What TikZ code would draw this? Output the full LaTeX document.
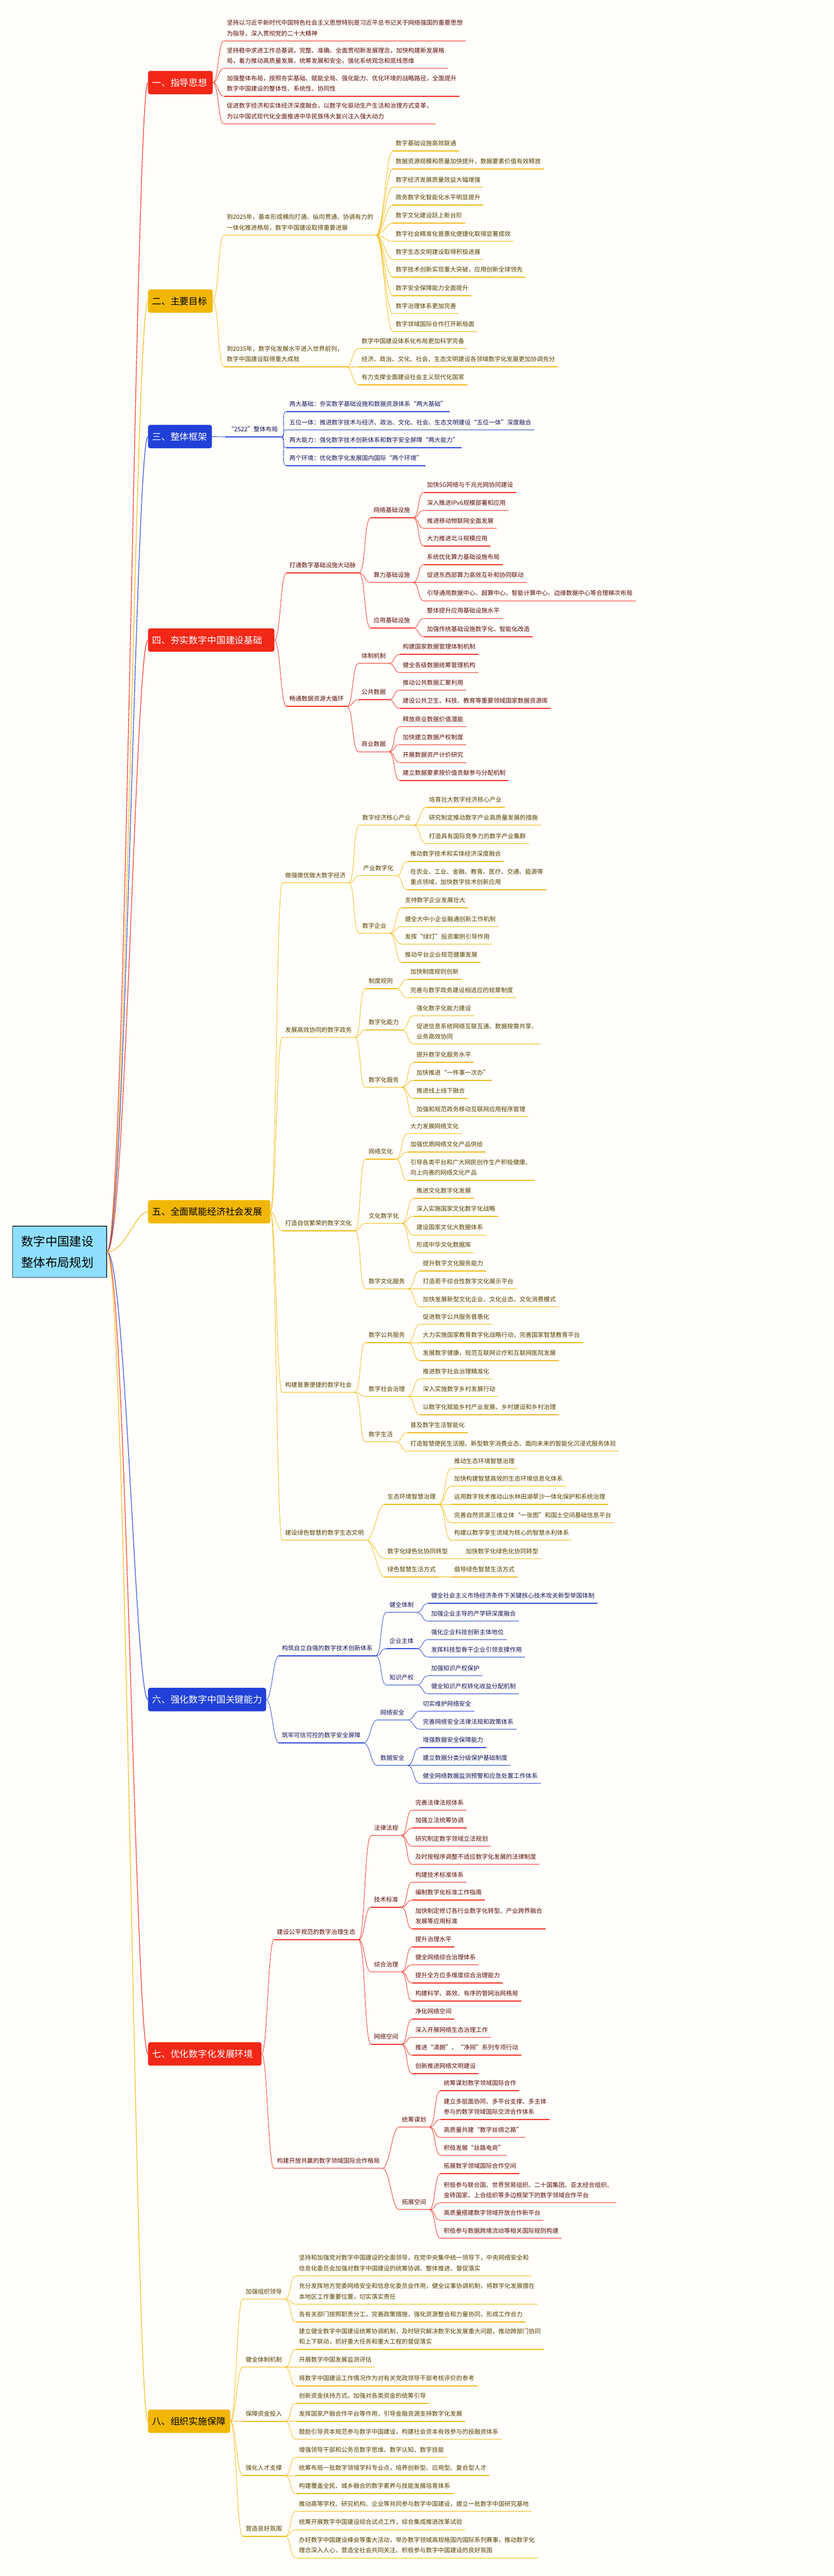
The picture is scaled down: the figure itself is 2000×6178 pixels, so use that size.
\documentclass[tikz,border=0pt]{standalone}
\usepackage{fontspec}
\setmainfont{Noto Sans CJK SC}
\definecolor{cR}{HTML}{F32717}
\definecolor{cY}{HTML}{F2B705}
\definecolor{cB}{HTML}{2140D8}
\definecolor{tR}{HTML}{5E0F0A}
\definecolor{tY}{HTML}{584200}
\definecolor{tB}{HTML}{16185C}
\definecolor{rootfill}{HTML}{8EDFFF}
\definecolor{rootline}{HTML}{2F3E4E}
\definecolor{bgc}{HTML}{FFFEFA}
\newcommand\fsleaf{\fontsize{14.5}{25}\selectfont}
\newcommand\two[2]{\begin{tabular}[b]{@{}l@{}}#1\\#2\end{tabular}}
\newcommand\nd[5]{\node[txt,text=t#4] (#1) at (#2-8,#3) {#5};\draw[ul,draw=c#4] (#1.south west)--(#1.south east);}
\newcommand\cn[3]{\draw[con,draw=c#1] (#2.south east) .. controls +(16,0) and +(-16,0) .. (#3.south west);}
\newcommand\bcn[3]{\draw[con,draw=c#1] (#2.east) .. controls +(14,0) and +(-14,0) .. (#3.south west);}
\newcommand\bx[6]{\node[l1box,fill=c#4,text=#5,text width=#3pt] (#1) at (355,#2) {#6};}
\newcommand\rcn[2]{\draw[rootcon,draw=c#1] (root.east) .. controls +(45,0) and +(-30,0) .. (#2.west);}
\begin{document}
\begin{tikzpicture}[x=1pt,y=-1pt,
  txt/.style={anchor=south west,inner xsep=7pt,inner ysep=2pt,text depth=10.5pt,font=\fsleaf},
  ul/.style={line width=1.8pt},
  con/.style={line width=1pt},
  rootcon/.style={line width=1.4pt},
  l1box/.style={anchor=west,rounded corners=5pt,inner xsep=10pt,minimum height=56pt,align=left,font=\fontsize{22}{26}\selectfont},
  rootbox/.style={anchor=north west,fill=rootfill,draw=rootline,line width=1.5pt,minimum width=225pt,minimum height=123pt,text width=185pt,inner xsep=20pt,align=left,font=\fontsize{29}{50}\selectfont,text=black}]
\useasboundingbox (0,0) rectangle (2000,6178);
\fill[bgc] (0,0) rectangle (2000,6178);

% root
\node[rootbox] (root) at (30,2940) {数字中国建设\\整体布局规划};

% level-1 boxes
\bx{b1}{198}{135}{R}{white}{一、指导思想}
\bx{b2}{722}{135}{Y}{black}{二、主要目标}
\bx{b3}{1047}{133}{B}{white}{三、整体框架}
\bx{b4}{1535}{283}{R}{white}{四、夯实数字中国建设基础}
\bx{b5}{2906}{273}{Y}{black}{五、全面赋能经济社会发展}
\bx{b6}{4076}{263}{B}{white}{六、强化数字中国关键能力}
\bx{b7}{4926}{252}{R}{white}{七、优化数字化发展环境}
\bx{b8}{5807}{177}{Y}{black}{八、组织实施保障}

\rcn{R}{b1}\rcn{Y}{b2}\rcn{B}{b3}\rcn{R}{b4}\rcn{Y}{b5}\rcn{B}{b6}\rcn{R}{b7}\rcn{Y}{b8}

% ===== 一 =====
\nd{s1a}{545}{98}{R}{\two{坚持以习近平新时代中国特色社会主义思想特别是习近平总书记关于网络强国的重要思想}{为指导，深入贯彻党的二十大精神}}
\nd{s1b}{545}{164}{R}{\two{坚持稳中求进工作总基调，完整、准确、全面贯彻新发展理念，加快构建新发展格}{局，着力推动高质量发展，统筹发展和安全，强化系统观念和底线思维}}
\nd{s1c}{545}{231}{R}{\two{加强整体布局，按照夯实基础、赋能全局、强化能力、优化环境的战略路径，全面提升}{数字中国建设的整体性、系统性、协同性}}
\nd{s1d}{545}{297}{R}{\two{促进数字经济和实体经济深度融合，以数字化驱动生产生活和治理方式变革，}{为以中国式现代化全面推进中华民族伟大复兴注入强大动力}}
\bcn{R}{b1}{s1a}\bcn{R}{b1}{s1b}\bcn{R}{b1}{s1c}\bcn{R}{b1}{s1d}

% ===== 二 =====
\nd{s2a}{545}{564}{Y}{\two{到2025年，基本形成横向打通、纵向贯通、协调有力的}{一体化推进格局，数字中国建设取得重要进展}}
\nd{s2b}{545}{880}{Y}{\two{到2035年，数字化发展水平进入世界前列，}{数字中国建设取得重大成就}}
\bcn{Y}{b2}{s2a}\bcn{Y}{b2}{s2b}
\nd{a1}{950}{362}{Y}{数字基础设施高效联通}
\nd{a2}{950}{405}{Y}{数据资源规模和质量加快提升，数据要素价值有效释放}
\nd{a3}{950}{449}{Y}{数字经济发展质量效益大幅增强}
\nd{a4}{950}{492}{Y}{政务数字化智能化水平明显提升}
\nd{a5}{950}{535}{Y}{数字文化建设跃上新台阶}
\nd{a6}{950}{579}{Y}{数字社会精准化普惠化便捷化取得显著成效}
\nd{a7}{950}{622}{Y}{数字生态文明建设取得积极进展}
\nd{a8}{950}{665}{Y}{数字技术创新实现重大突破，应用创新全球领先}
\nd{a9}{950}{709}{Y}{数字安全保障能力全面提升}
\nd{a10}{950}{752}{Y}{数字治理体系更加完善}
\nd{a11}{950}{795}{Y}{数字领域国际合作打开新局面}
\foreach \k in {a1,a2,a3,a4,a5,a6,a7,a8,a9,a10,a11}{\cn{Y}{s2a}{\k}}
\nd{bb1}{868}{836}{Y}{数字中国建设体系化布局更加科学完备}
\nd{bb2}{868}{880}{Y}{经济、政治、文化、社会、生态文明建设各领域数字化发展更加协调充分}
\nd{bb3}{868}{923}{Y}{有力支撑全面建设社会主义现代化国家}
\cn{Y}{s2b}{bb1}\cn{Y}{s2b}{bb2}\cn{Y}{s2b}{bb3}

% ===== 三 =====
\nd{s3a}{548}{1048}{B}{“2522”整体布局}
\bcn{B}{b3}{s3a}
\nd{c1}{695}{987}{B}{两大基础：夯实数字基础设施和数据资源体系“两大基础”}
\nd{c2}{695}{1031}{B}{五位一体：推进数字技术与经济、政治、文化、社会、生态文明建设“五位一体”深度融合}
\nd{c3}{695}{1074}{B}{两大能力：强化数字技术创新体系和数字安全屏障“两大能力”}
\nd{c4}{695}{1117}{B}{两个环境：优化数字化发展国内国际“两个环境”}
\cn{B}{s3a}{c1}\cn{B}{s3a}{c2}\cn{B}{s3a}{c3}\cn{B}{s3a}{c4}

% ===== 四 =====
\nd{d1}{695}{1374}{R}{打通数字基础设施大动脉}
\nd{d2}{695}{1694}{R}{畅通数据资源大循环}
\bcn{R}{b4}{d1}\bcn{R}{b4}{d2}
\nd{d1a}{897}{1242}{R}{网络基础设施}
\nd{d1b}{897}{1397}{R}{算力基础设施}
\nd{d1c}{897}{1506}{R}{应用基础设施}
\cn{R}{d1}{d1a}\cn{R}{d1}{d1b}\cn{R}{d1}{d1c}
\nd{d1a1}{1025}{1181}{R}{加快5G网络与千兆光网协同建设}
\nd{d1a2}{1025}{1224}{R}{深入推进IPv6规模部署和应用}
\nd{d1a3}{1025}{1267}{R}{推进移动物联网全面发展}
\nd{d1a4}{1025}{1310}{R}{大力推进北斗规模应用}
\cn{R}{d1a}{d1a1}\cn{R}{d1a}{d1a2}\cn{R}{d1a}{d1a3}\cn{R}{d1a}{d1a4}
\nd{d1b1}{1025}{1354}{R}{系统优化算力基础设施布局}
\nd{d1b2}{1025}{1397}{R}{促进东西部算力高效互补和协同联动}
\nd{d1b3}{1025}{1441}{R}{引导通用数据中心、超算中心、智能计算中心、边缘数据中心等合理梯次布局}
\cn{R}{d1b}{d1b1}\cn{R}{d1b}{d1b2}\cn{R}{d1b}{d1b3}
\nd{d1c1}{1025}{1483}{R}{整体提升应用基础设施水平}
\nd{d1c2}{1025}{1527}{R}{加强传统基础设施数字化、智能化改造}
\cn{R}{d1c}{d1c1}\cn{R}{d1c}{d1c2}
\nd{d2a}{868}{1591}{R}{体制机制}
\nd{d2b}{868}{1678}{R}{公共数据}
\nd{d2c}{868}{1803}{R}{商业数据}
\cn{R}{d2}{d2a}\cn{R}{d2}{d2b}\cn{R}{d2}{d2c}
\nd{d2a1}{967}{1569}{R}{构建国家数据管理体制机制}
\nd{d2a2}{967}{1613}{R}{健全各级数据统筹管理机构}
\cn{R}{d2a}{d2a1}\cn{R}{d2a}{d2a2}
\nd{d2b1}{967}{1655}{R}{推动公共数据汇聚利用}
\nd{d2b2}{967}{1699}{R}{建设公共卫生、科技、教育等重要领域国家数据资源库}
\cn{R}{d2b}{d2b1}\cn{R}{d2b}{d2b2}
\nd{d2c1}{967}{1743}{R}{释放商业数据价值潜能}
\nd{d2c2}{967}{1786}{R}{加快建立数据产权制度}
\nd{d2c3}{967}{1829}{R}{开展数据资产计价研究}
\nd{d2c4}{967}{1872}{R}{建立数据要素按价值贡献参与分配机制}
\cn{R}{d2c}{d2c1}\cn{R}{d2c}{d2c2}\cn{R}{d2c}{d2c3}\cn{R}{d2c}{d2c4}

% ===== 五 =====
\nd{e1}{685}{2117}{Y}{做强做优做大数字经济}
\nd{e2}{685}{2488}{Y}{发展高效协同的数字政务}
\nd{e3}{685}{2952}{Y}{打造自信繁荣的数字文化}
\nd{e4}{685}{3339}{Y}{构建普惠便捷的数字社会}
\nd{e5}{685}{3694}{Y}{建设绿色智慧的数字生态文明}
\bcn{Y}{b5}{e1}\bcn{Y}{b5}{e2}\bcn{Y}{b5}{e3}\bcn{Y}{b5}{e4}\bcn{Y}{b5}{e5}
% e1
\nd{e1a}{870}{1979}{Y}{数字经济核心产业}
\nd{e1b}{872}{2100}{Y}{产业数字化}
\nd{e1c}{870}{2238}{Y}{数字企业}
\cn{Y}{e1}{e1a}\cn{Y}{e1}{e1b}\cn{Y}{e1}{e1c}
\nd{e1a1}{1030}{1936}{Y}{培育壮大数字经济核心产业}
\nd{e1a2}{1030}{1979}{Y}{研究制定推动数字产业高质量发展的措施}
\nd{e1a3}{1030}{2023}{Y}{打造具有国际竞争力的数字产业集群}
\cn{Y}{e1a}{e1a1}\cn{Y}{e1a}{e1a2}\cn{Y}{e1a}{e1a3}
\nd{e1b1}{985}{2066}{Y}{推动数字技术和实体经济深度融合}
\nd{e1b2}{985}{2134}{Y}{\two{在农业、工业、金融、教育、医疗、交通、能源等}{重点领域，加快数字技术创新应用}}
\cn{Y}{e1b}{e1b1}\cn{Y}{e1b}{e1b2}
\nd{e1c1}{972}{2177}{Y}{支持数字企业发展壮大}
\nd{e1c2}{972}{2222}{Y}{健全大中小企业融通创新工作机制}
\nd{e1c3}{972}{2264}{Y}{发挥“绿灯”投资案例引导作用}
\nd{e1c4}{972}{2308}{Y}{推动平台企业规范健康发展}
\cn{Y}{e1c}{e1c1}\cn{Y}{e1c}{e1c2}\cn{Y}{e1c}{e1c3}\cn{Y}{e1c}{e1c4}
% e2
\nd{e2a}{885}{2371}{Y}{制度规则}
\nd{e2b}{885}{2470}{Y}{数字化能力}
\nd{e2c}{885}{2608}{Y}{数字化服务}
\cn{Y}{e2}{e2a}\cn{Y}{e2}{e2b}\cn{Y}{e2}{e2c}
\nd{e2a1}{985}{2349}{Y}{加快制度规则创新}
\nd{e2a2}{985}{2393}{Y}{完善与数字政务建设相适应的规章制度}
\cn{Y}{e2a}{e2a1}\cn{Y}{e2a}{e2a2}
\nd{e2b1}{1000}{2436}{Y}{强化数字化能力建设}
\nd{e2b2}{1000}{2504}{Y}{\two{促进信息系统网络互联互通、数据按需共享、}{业务高效协同}}
\cn{Y}{e2b}{e2b1}\cn{Y}{e2b}{e2b2}
\nd{e2c1}{1000}{2548}{Y}{提升数字化服务水平}
\nd{e2c2}{1000}{2591}{Y}{加快推进“一件事一次办”}
\nd{e2c3}{1000}{2634}{Y}{推进线上线下融合}
\nd{e2c4}{1000}{2678}{Y}{加强和规范政务移动互联网应用程序管理}
\cn{Y}{e2c}{e2c1}\cn{Y}{e2c}{e2c2}\cn{Y}{e2c}{e2c3}\cn{Y}{e2c}{e2c4}
% e3
\nd{e3a}{885}{2780}{Y}{网络文化}
\nd{e3b}{885}{2934}{Y}{文化数字化}
\nd{e3c}{885}{3091}{Y}{数字文化服务}
\cn{Y}{e3}{e3a}\cn{Y}{e3}{e3b}\cn{Y}{e3}{e3c}
\nd{e3a1}{985}{2719}{Y}{大力发展网络文化}
\nd{e3a2}{985}{2763}{Y}{加强优质网络文化产品供给}
\nd{e3a3}{985}{2831}{Y}{\two{引导各类平台和广大网民创作生产积极健康、}{向上向善的网络文化产品}}
\cn{Y}{e3a}{e3a1}\cn{Y}{e3a}{e3a2}\cn{Y}{e3a}{e3a3}
\nd{e3b1}{1000}{2874}{Y}{推进文化数字化发展}
\nd{e3b2}{1000}{2917}{Y}{深入实施国家文化数字化战略}
\nd{e3b3}{1000}{2962}{Y}{建设国家文化大数据体系}
\nd{e3b4}{1000}{3004}{Y}{形成中华文化数据库}
\cn{Y}{e3b}{e3b1}\cn{Y}{e3b}{e3b2}\cn{Y}{e3b}{e3b3}\cn{Y}{e3b}{e3b4}
\nd{e3c1}{1015}{3048}{Y}{提升数字文化服务能力}
\nd{e3c2}{1015}{3091}{Y}{打造若干综合性数字文化展示平台}
\nd{e3c3}{1015}{3134}{Y}{加快发展新型文化企业、文化业态、文化消费模式}
\cn{Y}{e3c}{e3c1}\cn{Y}{e3c}{e3c2}\cn{Y}{e3c}{e3c3}
% e4
\nd{e4a}{885}{3220}{Y}{数字公共服务}
\nd{e4b}{885}{3349}{Y}{数字社会治理}
\nd{e4c}{885}{3458}{Y}{数字生活}
\cn{Y}{e4}{e4a}\cn{Y}{e4}{e4b}\cn{Y}{e4}{e4c}
\nd{e4a1}{1015}{3176}{Y}{促进数字公共服务普惠化}
\nd{e4a2}{1015}{3220}{Y}{大力实施国家教育数字化战略行动，完善国家智慧教育平台}
\nd{e4a3}{1015}{3263}{Y}{发展数字健康，规范互联网诊疗和互联网医院发展}
\cn{Y}{e4a}{e4a1}\cn{Y}{e4a}{e4a2}\cn{Y}{e4a}{e4a3}
\nd{e4b1}{1015}{3307}{Y}{推进数字社会治理精准化}
\nd{e4b2}{1015}{3349}{Y}{深入实施数字乡村发展行动}
\nd{e4b3}{1015}{3393}{Y}{以数字化赋能乡村产业发展、乡村建设和乡村治理}
\cn{Y}{e4b}{e4b1}\cn{Y}{e4b}{e4b2}\cn{Y}{e4b}{e4b3}
\nd{e4c1}{985}{3436}{Y}{普及数字生活智能化}
\nd{e4c2}{985}{3480}{Y}{打造智慧便民生活圈、新型数字消费业态、面向未来的智能化沉浸式服务体验}
\cn{Y}{e4c}{e4c1}\cn{Y}{e4c}{e4c2}
% e5
\nd{e5a}{930}{3608}{Y}{生态环境智慧治理}
\nd{e5b}{930}{3738}{Y}{数字化绿色化协同转型}
\nd{e5c}{930}{3782}{Y}{绿色智慧生活方式}
\cn{Y}{e5}{e5a}\cn{Y}{e5}{e5b}\cn{Y}{e5}{e5c}
\nd{e5a1}{1090}{3522}{Y}{推动生态环境智慧治理}
\nd{e5a2}{1090}{3564}{Y}{加快构建智慧高效的生态环境信息化体系}
\nd{e5a3}{1090}{3608}{Y}{运用数字技术推动山水林田湖草沙一体化保护和系统治理}
\nd{e5a4}{1090}{3652}{Y}{完善自然资源三维立体“一张图”和国土空间基础信息平台}
\nd{e5a5}{1090}{3694}{Y}{构建以数字孪生流域为核心的智慧水利体系}
\cn{Y}{e5a}{e5a1}\cn{Y}{e5a}{e5a2}\cn{Y}{e5a}{e5a3}\cn{Y}{e5a}{e5a4}\cn{Y}{e5a}{e5a5}
\nd{e5b1}{1118}{3738}{Y}{加快数字化绿色化协同转型}
\nd{e5c1}{1090}{3782}{Y}{倡导绿色智慧生活方式}
\cn{Y}{e5b}{e5b1}\cn{Y}{e5c}{e5c1}

% ===== 六 =====
\nd{f1}{677}{3971}{B}{构筑自立自强的数字技术创新体系}
\nd{f2}{677}{4180}{B}{筑牢可信可控的数字安全屏障}
\bcn{B}{b6}{f1}\bcn{B}{b6}{f2}
\nd{f1a}{935}{3867}{B}{健全体制}
\nd{f1b}{935}{3954}{B}{企业主体}
\nd{f1c}{935}{4041}{B}{知识产权}
\cn{B}{f1}{f1a}\cn{B}{f1}{f1b}\cn{B}{f1}{f1c}
\nd{f1a1}{1035}{3845}{B}{健全社会主义市场经济条件下关键核心技术攻关新型举国体制}
\nd{f1a2}{1035}{3888}{B}{加强企业主导的产学研深度融合}
\cn{B}{f1a}{f1a1}\cn{B}{f1a}{f1a2}
\nd{f1b1}{1035}{3932}{B}{强化企业科技创新主体地位}
\nd{f1b2}{1035}{3974}{B}{发挥科技型骨干企业引领支撑作用}
\cn{B}{f1b}{f1b1}\cn{B}{f1b}{f1b2}
\nd{f1c1}{1035}{4019}{B}{加强知识产权保护}
\nd{f1c2}{1035}{4062}{B}{健全知识产权转化收益分配机制}
\cn{B}{f1c}{f1c1}\cn{B}{f1c}{f1c2}
\nd{f2a}{913}{4125}{B}{网络安全}
\nd{f2b}{913}{4234}{B}{数据安全}
\cn{B}{f2}{f2a}\cn{B}{f2}{f2b}
\nd{f2a1}{1015}{4104}{B}{切实维护网络安全}
\nd{f2a2}{1015}{4147}{B}{完善网络安全法律法规和政策体系}
\cn{B}{f2a}{f2a1}\cn{B}{f2a}{f2a2}
\nd{f2b1}{1015}{4191}{B}{增强数据安全保障能力}
\nd{f2b2}{1015}{4234}{B}{建立数据分类分级保护基础制度}
\nd{f2b3}{1015}{4277}{B}{健全网络数据监测预警和应急处置工作体系}
\cn{B}{f2b}{f2b1}\cn{B}{f2b}{f2b2}\cn{B}{f2b}{f2b3}

% ===== 七 =====
\nd{g1}{665}{4652}{R}{建设公平规范的数字治理生态}
\nd{g2}{665}{5200}{R}{构建开放共赢的数字领域国际合作格局}
\bcn{R}{b7}{g1}\bcn{R}{b7}{g2}
\nd{g1a}{898}{4402}{R}{法律法规}
\nd{g1b}{898}{4574}{R}{技术标准}
\nd{g1c}{898}{4729}{R}{综合治理}
\nd{g1d}{898}{4903}{R}{网络空间}
\cn{R}{g1}{g1a}\cn{R}{g1}{g1b}\cn{R}{g1}{g1c}\cn{R}{g1}{g1d}
\nd{g1a1}{997}{4341}{R}{完善法律法规体系}
\nd{g1a2}{997}{4384}{R}{加强立法统筹协调}
\nd{g1a3}{997}{4428}{R}{研究制定数字领域立法规划}
\nd{g1a4}{997}{4471}{R}{及时按程序调整不适应数字化发展的法律制度}
\cn{R}{g1a}{g1a1}\cn{R}{g1a}{g1a2}\cn{R}{g1a}{g1a3}\cn{R}{g1a}{g1a4}
\nd{g1b1}{997}{4514}{R}{构建技术标准体系}
\nd{g1b2}{997}{4557}{R}{编制数字化标准工作指南}
\nd{g1b3}{997}{4626}{R}{\two{加快制定修订各行业数字化转型、产业跨界融合}{发展等应用标准}}
\cn{R}{g1b}{g1b1}\cn{R}{g1b}{g1b2}\cn{R}{g1b}{g1b3}
\nd{g1c1}{997}{4669}{R}{提升治理水平}
\nd{g1c2}{997}{4712}{R}{健全网络综合治理体系}
\nd{g1c3}{997}{4756}{R}{提升全方位多维度综合治理能力}
\nd{g1c4}{997}{4799}{R}{构建科学、高效、有序的管网治网格局}
\cn{R}{g1c}{g1c1}\cn{R}{g1c}{g1c2}\cn{R}{g1c}{g1c3}\cn{R}{g1c}{g1c4}
\nd{g1d1}{997}{4842}{R}{净化网络空间}
\nd{g1d2}{997}{4886}{R}{深入开展网络生态治理工作}
\nd{g1d3}{997}{4929}{R}{推进“清朗”、“净网”系列专项行动}
\nd{g1d4}{997}{4973}{R}{创新推进网络文明建设}
\cn{R}{g1d}{g1d1}\cn{R}{g1d}{g1d2}\cn{R}{g1d}{g1d3}\cn{R}{g1d}{g1d4}
\nd{g2a}{965}{5101}{R}{统筹谋划}
\nd{g2b}{965}{5299}{R}{拓展空间}
\cn{R}{g2}{g2a}\cn{R}{g2}{g2b}
\nd{g2a1}{1065}{5014}{R}{统筹谋划数字领域国际合作}
\nd{g2a2}{1065}{5083}{R}{\two{建立多层面协同、多平台支撑、多主体}{参与的数字领域国际交流合作体系}}
\nd{g2a3}{1065}{5126}{R}{高质量共建“数字丝绸之路”}
\nd{g2a4}{1065}{5169}{R}{积极发展“丝路电商”}
\cn{R}{g2a}{g2a1}\cn{R}{g2a}{g2a2}\cn{R}{g2a}{g2a3}\cn{R}{g2a}{g2a4}
\nd{g2b1}{1065}{5213}{R}{拓展数字领域国际合作空间}
\nd{g2b2}{1065}{5283}{R}{\two{积极参与联合国、世界贸易组织、二十国集团、亚太经合组织、}{金砖国家、上合组织等多边框架下的数字领域合作平台}}
\nd{g2b3}{1065}{5325}{R}{高质量搭建数字领域开放合作新平台}
\nd{g2b4}{1065}{5368}{R}{积极参与数据跨境流动等相关国际规则构建}
\cn{R}{g2b}{g2b1}\cn{R}{g2b}{g2b2}\cn{R}{g2b}{g2b3}\cn{R}{g2b}{g2b4}

% ===== 八 =====
\nd{h1}{590}{5514}{Y}{加强组织领导}
\nd{h2}{590}{5677}{Y}{健全体制机制}
\nd{h3}{590}{5807}{Y}{保障资金投入}
\nd{h4}{590}{5937}{Y}{强化人才支撑}
\nd{h5}{590}{6083}{Y}{营造良好氛围}
\bcn{Y}{b8}{h1}\bcn{Y}{b8}{h2}\bcn{Y}{b8}{h3}\bcn{Y}{b8}{h4}\bcn{Y}{b8}{h5}
\nd{h1a}{718}{5458}{Y}{\two{坚持和加强党对数字中国建设的全面领导，在党中央集中统一领导下，中央网络安全和}{信息化委员会加强对数字中国建设的统筹协调、整体推进、督促落实}}
\nd{h1b}{718}{5526}{Y}{\two{充分发挥地方党委网络安全和信息化委员会作用，健全议事协调机制，将数字化发展摆在}{本地区工作重要位置，切实落实责任}}
\nd{h1c}{718}{5569}{Y}{各有关部门按照职责分工，完善政策措施，强化资源整合和力量协同，形成工作合力}
\cn{Y}{h1}{h1a}\cn{Y}{h1}{h1b}\cn{Y}{h1}{h1c}
\nd{h2a}{718}{5634}{Y}{\two{建立健全数字中国建设统筹协调机制，及时研究解决数字化发展重大问题，推动跨部门协同}{和上下联动，抓好重大任务和重大工程的督促落实}}
\nd{h2b}{718}{5677}{Y}{开展数字中国发展监测评估}
\nd{h2c}{718}{5722}{Y}{将数字中国建设工作情况作为对有关党政领导干部考核评价的参考}
\cn{Y}{h2}{h2a}\cn{Y}{h2}{h2b}\cn{Y}{h2}{h2c}
\nd{h3a}{718}{5764}{Y}{创新资金扶持方式，加强对各类资金的统筹引导}
\nd{h3b}{718}{5807}{Y}{发挥国家产融合作平台等作用，引导金融资源支持数字化发展}
\nd{h3c}{718}{5850}{Y}{鼓励引导资本规范参与数字中国建设，构建社会资本有效参与的投融资体系}
\cn{Y}{h3}{h3a}\cn{Y}{h3}{h3b}\cn{Y}{h3}{h3c}
\nd{h4a}{718}{5893}{Y}{增强领导干部和公务员数字思维、数字认知、数字技能}
\nd{h4b}{718}{5937}{Y}{统筹布局一批数字领域学科专业点，培养创新型、应用型、复合型人才}
\nd{h4c}{718}{5980}{Y}{构建覆盖全民、城乡融合的数字素养与技能发展培育体系}
\cn{Y}{h4}{h4a}\cn{Y}{h4}{h4b}\cn{Y}{h4}{h4c}
\nd{h5a}{718}{6023}{Y}{推动高等学校、研究机构、企业等共同参与数字中国建设，建立一批数字中国研究基地}
\nd{h5b}{718}{6067}{Y}{统筹开展数字中国建设综合试点工作，综合集成推进改革试验}
\nd{h5c}{718}{6135}{Y}{\two{办好数字中国建设峰会等重大活动，举办数字领域高规格国内国际系列赛事，推动数字化}{理念深入人心，营造全社会共同关注、积极参与数字中国建设的良好氛围}}
\cn{Y}{h5}{h5a}\cn{Y}{h5}{h5b}\cn{Y}{h5}{h5c}
\end{tikzpicture}
\end{document}
